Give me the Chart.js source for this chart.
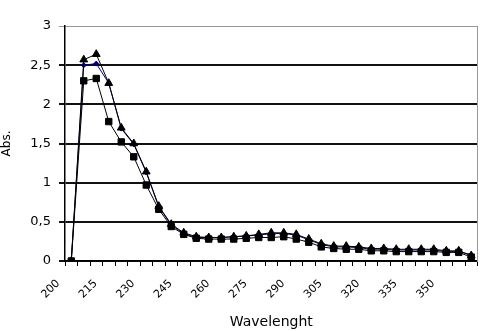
<!DOCTYPE html>
<html>
<head>
<meta charset="utf-8">
<script src="https://cdn.jsdelivr.net/npm/chart.js@4/dist/chart.umd.min.js"></script>
<style>
  html, body { margin: 0; padding: 0; background: #fff; }
  #wrap { width: 483px; height: 331px; }
</style>
</head>
<body>
<div id="wrap"><canvas id="myChart" width="483" height="331"></canvas></div>
<script>
// wavelengths, 5 nm apart
var wavelengths = [200,205,210,215,220,225,230,235,240,245,250,255,260,265,270,275,280,
                   285,290,295,300,305,310,315,320,325,330,335,340,345,350,355,360];
// absorbance
var squareSeries = [0, 2.30, 2.33, 1.78, 1.52, 1.33, 0.97, 0.66, 0.44, 0.34, 0.29, 0.28, 0.28,
                    0.28, 0.29, 0.30, 0.30, 0.31, 0.28, 0.24, 0.18, 0.16, 0.15, 0.15, 0.13, 0.13,
                    0.12, 0.12, 0.12, 0.12, 0.11, 0.11, 0.05];
var triangleSeries = [0, 2.57, 2.64, 2.27, 1.70, 1.50, 1.14, 0.70, 0.47, 0.36, 0.31, 0.30, 0.30,
                      0.31, 0.32, 0.34, 0.36, 0.36, 0.34, 0.28, 0.22, 0.19, 0.19, 0.18, 0.16, 0.16,
                      0.15, 0.15, 0.15, 0.15, 0.13, 0.13, 0.07];
var blueSeries = [0, 2.50, 2.52, 2.27, 1.69, 1.49, 1.13, 0.69, 0.46, 0.35, 0.30, 0.30, 0.30,
                  0.31, 0.32, 0.33, 0.35, 0.35, 0.33, 0.27, 0.21, 0.18, 0.18, 0.17, 0.15, 0.15,
                  0.14, 0.14, 0.14, 0.14, 0.12, 0.12, 0.08];
var yTicks = [0, 0.5, 1, 1.5, 2, 2.5, 3];

var font = "'DejaVu Sans', sans-serif";
var chart;

function InitChart() {
    var ctxChart = document.getElementById('myChart').getContext('2d');
    chart = new Chart(ctxChart, {
        type: 'line',
        data: {
            labels: wavelengths,
            datasets: [{
                label: 'squares',
                data: squareSeries,
                borderColor: '#000',
                backgroundColor: '#000',
                borderWidth: 1,
                pointStyle: 'rect',
                pointRadius: 4.5,
                order: 1
            }, {
                label: 'triangles',
                data: triangleSeries,
                borderColor: '#000',
                backgroundColor: '#000',
                borderWidth: 1,
                pointStyle: 'triangle',
                pointRadius: 4.5,
                order: 2
            }, {
                label: 'blue',
                data: blueSeries,
                borderColor: '#000080',
                backgroundColor: '#000080',
                borderWidth: 1,
                pointStyle: 'rectRot',
                pointRadius: 2.5,
                order: 3
            }]
        },
        options: {
            responsive: false,
            animation: false,
            layout: { padding: { top: 26, right: 0, left: 0, bottom: 0 } },
            plugins: {
                legend: { display: false },
                tooltip: { enabled: false }
            },
            scales: {
                x: {
                    type: 'category',
                    offset: true,
                    grid: {
                        offset: true,
                        drawOnChartArea: false,
                        drawTicks: true,
                        tickLength: 5,
                        color: '#000'
                    },
                    border: { color: '#000', width: 1.5 },
                    ticks: {
                        autoSkip: false,
                        maxRotation: 45,
                        minRotation: 45,
                        labelOffset: -13,
                        padding: 11,
                        color: '#000',
                        font: { family: font, size: 11 },
                        callback: function (v, i) { return i % 3 === 0 ? wavelengths[i] : ''; }
                    },
                    title: {
                        display: true,
                        text: 'Wavelenght',
                        color: '#000',
                        font: { family: font, size: 14 },
                        padding: { top: 0, bottom: 0 }
                    },
                    afterFit: function (s) {
                        s.height = 70;
                        s.paddingLeft = 0;
                        s.paddingRight = 0;
                    }
                },
                y: {
                    min: 0,
                    max: 3,
                    afterBuildTicks: function (s) { s.ticks = yTicks.map(function (v) { return { value: v }; }); },
                    grid: {
                        color: function (c) { return c.tick && c.tick.value === 3 ? '#999' : '#111'; },
                        lineWidth: function (c) { return c.tick && c.tick.value === 3 ? 1 : 2; },
                        tickLength: 6
                    },
                    border: { color: '#000', width: 1.5 },
                    ticks: {
                        color: '#000',
                        padding: 8,
                        font: { family: font, size: 13 },
                        callback: function (v) { return String(v).replace('.', ','); }
                    },
                    title: {
                        display: true,
                        text: 'Abs.',
                        color: '#000',
                        font: { family: font, size: 12 },
                        padding: { top: 0, bottom: 0 }
                    },
                    afterFit: function (s) { s.width = 65; }
                },
                yRight: {
                    position: 'right',
                    min: 0,
                    max: 3,
                    grid: { drawOnChartArea: false, drawTicks: false },
                    ticks: { display: false },
                    border: { color: '#999', width: 1 },
                    afterFit: function (s) { s.width = 2; }
                }
            }
        }
    });
}

InitChart();
</script>
</body>
</html>
